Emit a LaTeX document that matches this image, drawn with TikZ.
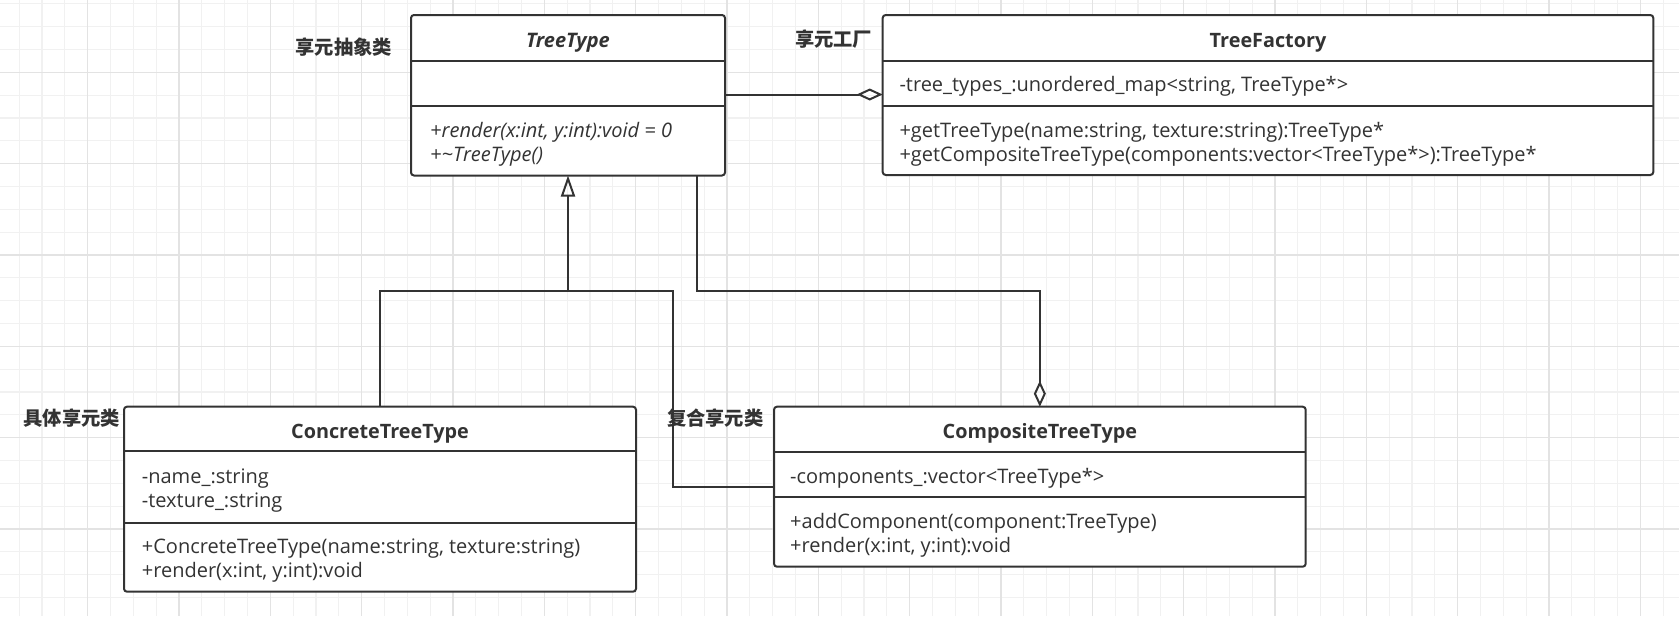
\documentclass[tikz,border=0pt]{standalone}
\usepackage{fontspec}
\setmainfont{Open Sans}
\newfontfamily\cjk{Noto Sans CJK SC}
\usetikzlibrary{arrows.meta}
\definecolor{ink}{HTML}{333333}
\definecolor{gridminor}{HTML}{F1F1F1}
\definecolor{gridmajor}{HTML}{E3E3E3}
\tikzset{
  classbox/.style={draw=ink, line width=2pt, rounded corners=3pt, fill=white, inner sep=0pt, outer sep=0pt},
  sepline/.style={draw=ink, line width=2pt},
  conn/.style={draw=ink, line width=2pt},
  aggline/.style={conn, -{Diamond[open, length=26pt, width=12pt]}},
  genline/.style={conn, -{Triangle[open, length=21pt, width=14pt]}},
  txt/.style={inner sep=0pt, anchor=base west, text=ink, font=\fontsize{20}{24}\selectfont},
  itxt/.style={txt, font=\fontsize{20}{24}\selectfont\itshape},
  head/.style={inner sep=0pt, anchor=base, text=ink, font=\fontsize{19.8}{24}\selectfont\bfseries},
  cnlabel/.style={inner sep=0pt, anchor=center, text=ink, font=\cjk\fontsize{19.3}{22}\selectfont\bfseries},
}
\begin{document}
\begin{tikzpicture}[x=1pt, y=-1pt]
\useasboundingbox (0,0) rectangle (1679,616);
\fill[white] (0,0) rectangle (1679,616);
% grid
\foreach \i in {0,...,74} {
  \draw[gridminor, line width=1.2pt] ({-3.67+22.833*\i},0) -- ({-3.67+22.833*\i},616);
}
\foreach \i in {0,...,28} {
  \draw[gridminor, line width=1.2pt] (0,{-19+22.833*\i}) -- (1679,{-19+22.833*\i});
}
\foreach \i in {0,...,19} {
  \draw[gridmajor, line width=1.4pt] ({-3.67+91.333*\i},0) -- ({-3.67+91.333*\i},616);
}
\foreach \i in {0,...,7} {
  \draw[gridmajor, line width=1.4pt] (0,{-19+91.333*\i}) -- (1679,{-19+91.333*\i});
}

% ---------- boxes ----------
\node[classbox, minimum width=314pt, minimum height=160.5pt] (tt) at (568,95.25) {};
\node[classbox, minimum width=770.6pt, minimum height=160pt] (tf) at (1268,95) {};
\node[classbox, minimum width=512pt, minimum height=185pt] (ct) at (380,499.2) {};
\node[classbox, minimum width=531.7pt, minimum height=160pt] (cp) at (1039.85,486.7) {};

% separators
\draw[sepline] (tt.west |- 0,60.5) -- (tt.east |- 0,60.5);
\draw[sepline] (tt.west |- 0,105.5) -- (tt.east |- 0,105.5);
\draw[sepline] (tf.west |- 0,60.7) -- (tf.east |- 0,60.7);
\draw[sepline] (tf.west |- 0,105.7) -- (tf.east |- 0,105.7);
\draw[sepline] (ct.west |- 0,451) -- (ct.east |- 0,451);
\draw[sepline] (ct.west |- 0,522.7) -- (ct.east |- 0,522.7);
\draw[sepline] (cp.west |- 0,451.7) -- (cp.east |- 0,451.7);
\draw[sepline] (cp.west |- 0,497.3) -- (cp.east |- 0,497.3);

% ---------- texts ----------
\node[head, font=\fontsize{20}{24}\selectfont\bfseries\itshape] (tt-h) at (568,47) {TreeType};
\node[itxt] (tt-m1) at (430,137) {+render(x:int, y:int):void = 0};
\node[itxt] (tt-m2) at (430,161) {+\textasciitilde TreeType()};

\node[head] (tf-h) at (1268,47) {TreeFactory};
\node[txt] (tf-a1) at (899.3,91) {-tree\_types\_:unordered\_map<string, TreeType*>};
\node[txt] (tf-m1) at (899.3,137) {+getTreeType(name:string, texture:string):TreeType*};
\node[txt] (tf-m2) at (899.3,161) {+getCompositeTreeType(components:vector<TreeType*>):TreeType*};

\node[head] (ct-h) at (380,438.7) {ConcreteTreeType};
\node[txt] (ct-a1) at (141.7,483.7) {-name\_:string};
\node[txt] (ct-a2) at (141.7,507.7) {-texture\_:string};
\node[txt] (ct-m1) at (141.7,553.7) {+ConcreteTreeType(name:string, texture:string)};
\node[txt] (ct-m2) at (141.7,577.7) {+render(x:int, y:int):void};

\node[head] (cp-h) at (1039.85,438.7) {CompositeTreeType};
\node[txt] (cp-a1) at (790,483.7) {-components\_:vector<TreeType*>};
\node[txt] (cp-m1) at (790,528.7) {+addComponent(component:TreeType)};
\node[txt] (cp-m2) at (790,552.7) {+render(x:int, y:int):void};

% Chinese labels
\node[cnlabel] (lb-tt) at (343.8,46.7) {享元抽象类};
\node[cnlabel] (lb-tf) at (833.6,39.5) {享元工厂};
\node[cnlabel] (lb-ct) at (71.7,417.7) {具体享元类};
\node[cnlabel] (lb-cp) at (715.3,417.7) {复合享元类};

% ---------- connectors ----------
\coordinate (j1) at (568,291);
\draw[aggline] ([yshift=0.75pt]tt.east) -- ([yshift=0.75pt]tt.east -| tf.west);
\draw[genline] (ct.north) |- (j1) -- (tt.south);
\draw[conn] (cp.west |- 0,487.3) -| (672.7,291) -- (j1);
\draw[aggline] ([xshift=128.7pt]tt.south) |- (1039.85,291) -- (cp.north);
\end{tikzpicture}
\end{document}
